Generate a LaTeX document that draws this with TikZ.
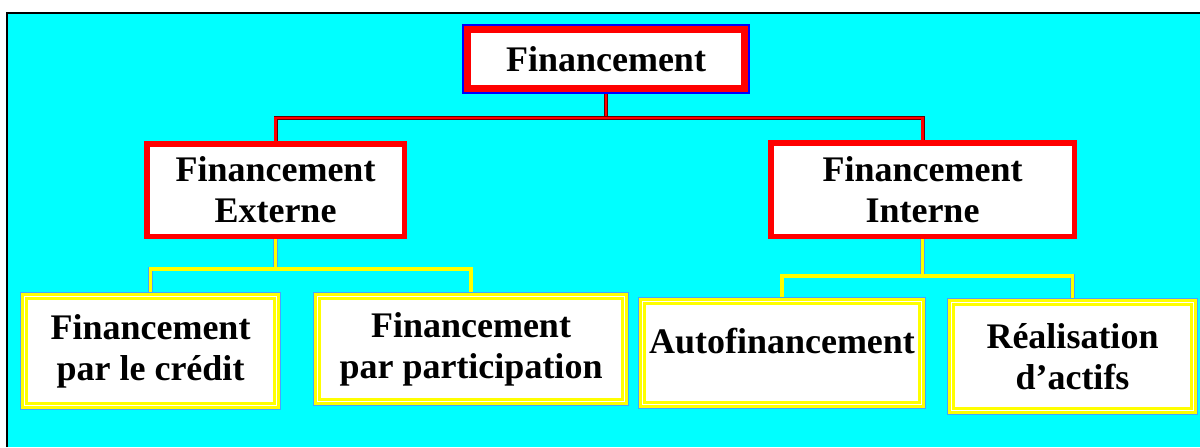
\documentclass[tikz,border=0pt]{standalone}
\usepackage{fontspec}
\setmainfont{Liberation Serif}
\usepackage{xcolor}
\usepackage{tikz}
\usetikzlibrary{positioning,calc,backgrounds}
\definecolor{FondCyan}{RGB}{0,255,255}
\definecolor{BordRouge}{RGB}{255,0,0}
\definecolor{BordJaune}{RGB}{255,255,0}
\definecolor{BordBleu}{RGB}{0,0,255}
\definecolor{LisereBleu}{RGB}{70,165,255}
\tikzset{
    rednode/.style={rectangle, draw=BordRouge, fill=white, line width=2.75pt, inner sep=0pt, align=center, text=black, font=\bfseries\fontsize{18pt}{20.5pt}\selectfont},
    yelnode/.style={rectangle, draw=BordJaune, fill=white, line width=1.5pt, double=white, double distance=0.5pt, inner sep=0pt, align=center, text=black, font=\bfseries\fontsize{18pt}{20.5pt}\selectfont, preaction={draw=LisereBleu, line width=4.2pt}},
    redline/.style={draw=BordRouge, line width=1.2pt, preaction={draw=black!60!red, line width=2pt}},
    yelline/.style={draw=BordJaune, line width=1.8pt, preaction={draw=LisereBleu, line width=2.3pt}}
}
\begin{document}
\begin{tikzpicture}[x=0.5pt, y=-0.5pt,
                % boite du sommet : double cadre bleu + rouge
                topnode/.style={rednode, line width=3.5pt, preaction={draw=BordBleu, line width=5.5pt}}
            ]
                \useasboundingbox (0,0) rectangle (1200,447);

                % Niveau 0 et 1
                \node[topnode, minimum width=138.5pt, minimum height=29.5pt] (fin) at (606,59) {Financement};
                \node[rednode, minimum width=128.75pt, minimum height=46.25pt] (ext) at (275.5,190) {Financement\\Externe};
                \node[rednode, minimum width=151.75pt, minimum height=46.75pt] (int) at (922.5,189.5) {Financement\\Interne};

                % Niveau 2
                \node[yelnode, minimum width=126pt, minimum height=54.5pt] (credit) at (150.5,351) {Financement\\par le crédit};
                \node[yelnode, minimum width=153.5pt, minimum height=52.5pt] (particip) at (471,349) {Financement\\par participation};
                \node[yelnode, minimum width=139.5pt, minimum height=51.5pt, align=none, text height=10pt, text depth=10pt] (autofin) at (782,353) {Autofinancement};
                \node[yelnode, minimum width=121pt, minimum height=54pt] (realis) at (1072.5,356.5) {Réalisation\\d’actifs};

                \begin{scope}[on background layer]
                    \fill[white] (0,0) rectangle (1200,447);
                    \fill[FondCyan] (7,13) rectangle (1200,447);
                    \draw[black, line width=1pt] (7,447) -- (7,13) -- (1200,13);
                    % liaisons
                    \draw[redline] (fin.south) -- ++(0,26) coordinate (hubR);
                    \draw[redline] (ext.north) |- (hubR) -| (int.north);
                    \draw[yelline] (ext.south) -- ++(0,30) coordinate (hubE);
                    \draw[yelline] (credit.north) |- (hubE) -| (particip.north);
                    \draw[yelline] (int.south) -- ++(0,37) coordinate (hubI);
                    \draw[yelline] (autofin.north) |- (hubI) -| (realis.north);
                \end{scope}
            \end{tikzpicture}
\end{document}
